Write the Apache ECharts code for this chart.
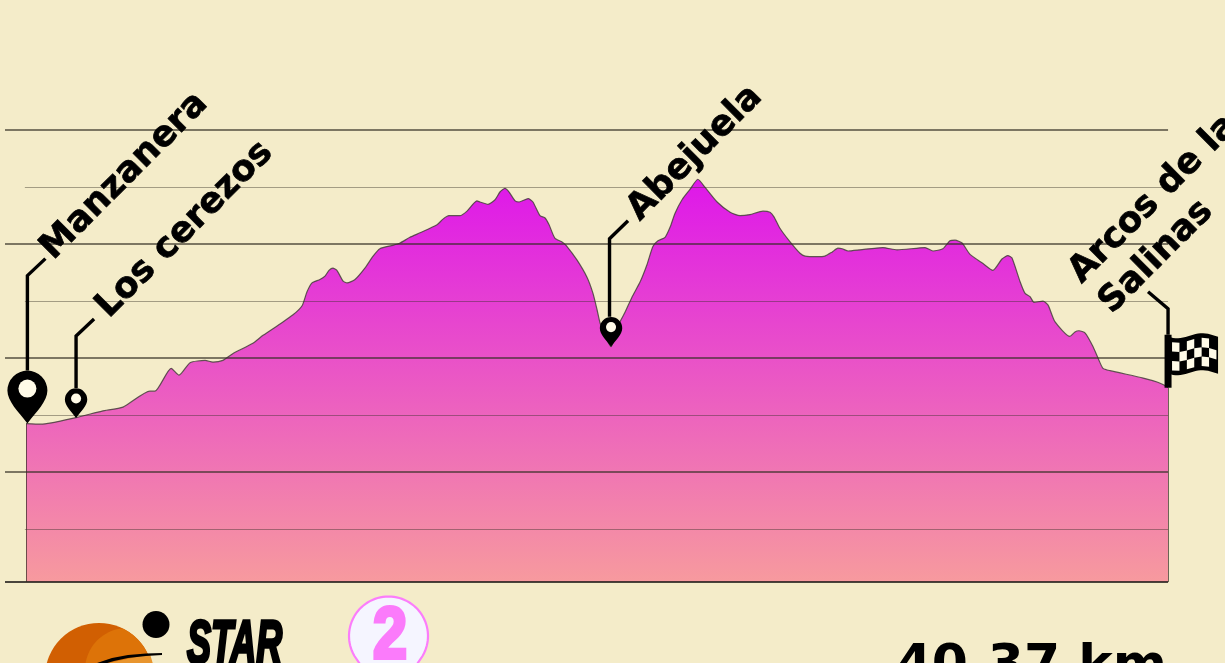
<!DOCTYPE html>
<html>
<head>
<meta charset="utf-8">
<style>html,body{margin:0;padding:0;background:#f4ecc9;overflow:hidden}#c{width:1225px;height:663px}</style>
<script src="https://cdn.jsdelivr.net/npm/echarts@6/dist/echarts.min.js"></script>
</head>
<body>
<div id="c"></div>
<script>
// Route profile: distance (km) and elevation (m)
const distanceKm = [0,0.53,1.80,2.69,3.43,4.38,4.56,5.13,5.41,5.80,6.33,6.61,6.96,7.32,8.02,8.38,8.98,9.44,9.76,9.93,10.11,10.39,10.57,10.71,10.85,10.99,11.21,11.35,11.63,11.98,12.27,12.51,12.97,13.22,13.57,13.93,14.53,14.74,14.95,15.34,15.59,15.94,16.05,16.33,16.58,16.76,16.93,17.07,17.29,17.43,17.75,17.92,18.17,18.35,18.49,18.70,18.95,19.09,19.48,19.83,20.04,20.19,20.29,20.47,20.68,20.86,21.00,21.17,21.42,21.71,21.95,22.16,22.34,22.59,22.77,22.94,23.19,23.47,23.75,24.00,24.43,24.89,25.24,25.59,26.05,26.30,26.44,26.65,27.01,27.36,27.54,27.96,28.24,28.49,28.70,28.85,29.06,29.48,30.29,30.79,31.78,32.06,32.41,32.66,32.84,33.09,33.37,33.83,34.18,34.50,34.71,34.85,35.14,35.31,35.49,35.63,35.95,36.13,36.37,36.90,37.08,37.22,37.44,37.72,37.93,38.07,38.32,39.49,39.98,40.33,40.37];
const elevationM = [1042.5,1042,1048,1053.5,1057,1071,1071,1091,1085,1096,1098,1096.5,1098,1104,1113,1120,1130,1138,1146,1158,1166,1169,1172,1177,1179,1177,1167.5,1166,1169,1179,1189.5,1196,1199,1201,1206,1210,1217,1222,1225,1225,1229,1238,1237,1235,1239,1246,1249,1246,1238,1237,1240,1237,1225,1223,1217,1205,1202,1199,1186,1171,1157,1142,1131,1120,1110,1122,1132,1140,1153.5,1167,1182,1198,1203,1206,1215,1227,1239,1248,1257,1250,1237,1228,1225,1226,1229,1228,1224,1214,1202,1192,1189.5,1189,1189.5,1193,1196.5,1196,1194,1195,1197,1195,1197,1194,1196,1203,1203.5,1201,1191,1183,1177,1187,1190,1188,1167,1157,1154,1149,1150,1146.5,1132,1119,1123,1124,1122,1110,1098,1091,1089,1082.5,1079,1075,1074];

const majorLevels = [1000, 1100, 1200, 1300];
const minorLevels = [950, 1050, 1150, 1250];
const floorM = 903.5;

const stopNames = ['Manzanera', 'Los cerezos', 'Abejuela', 'Arcos de la\nSalinas'];
const stopKm = [0.05, 1.77, 20.68, 40.37];
const stopElev = [1042.5, 1047.4, 1110, 1074];
const totalLabel = '40.37 km';
const brandLabel = 'STAR';
const stageLabel = '2';

const endKm = 40.37;
const xMin = -0.742, xMax = 42.383, yMax = 1414.3, minorStartKm = -0.04;

// styling of the stops: pin scale, leader offsets, label anchor
const STOP_STYLE = [
  {pin: 1, leader: [[0,-53],[0,-148],[18,-165]], label: [32,-157]},
  {pin: .56, leader: [[0,-30],[0,-82],[18,-99]], label: [39,-93]},
  {pin: .56, leader: [[-1.5,-30],[-1.5,-108],[17,-126]], label: [35,-119]},
  {pin: 0, leader: [[0,-53],[0,-79],[-20,-96]], label: [-50,-67]}
];
const PIN = 'M20 53 C11 41 0 31 0 20 A20 20 0 0 1 40 20 C40 31 29 41 20 53 Z';
const CREAM = '#fffbe8';
const LABEL_FONT = 'bold 35.5px "DejaVu Sans"';

function flag(x, y) {
  const wave = u => 2.5 * Math.sin(u * Math.PI * 2 + 0.4);
  const kids = [{type:'rect', shape:{x:x-3.5, y:y-53, width:7, height:53}, style:{fill:'#000'}}];
  const pts = [];
  for (let i=0;i<=20;i++){const u=i/20; pts.push([x+u*50, y-52+wave(u)]);}
  for (let i=20;i>=0;i--){const u=i/20; pts.push([x+u*50, y-15+wave(u)]);}
  kids.push({type:'polygon', shape:{points:pts}, style:{fill:'#000'}});
  const cols=6, rows=3, cw=7.4, ch=9.4;
  for (let r=0;r<rows;r++) for (let c=0;c<cols;c++){
    if ((r+c)%2) continue;
    const u0=(4+c*cw)/50, u1=(4+(c+1)*cw)/50;
    const top=y-47.5+r*ch;
    kids.push({type:'polygon', shape:{points:[
      [x+u0*50, top+wave(u0)],[x+u1*50, top+wave(u1)],
      [x+u1*50, top+ch+wave(u1)],[x+u0*50, top+ch+wave(u0)]]}, style:{fill:CREAM}});
  }
  return kids;
}

function renderStop(params, api) {
  const i = params.dataIndex;
  const p = api.coord([api.value(0), api.value(1)]);
  const s = STOP_STYLE[i];
  const x = p[0], y = p[1];
  const children = [];
  children.push({type:'polyline', shape:{points:s.leader.map(q=>[x+q[0], y+q[1]])},
    style:{stroke:'#000', lineWidth:3.4, fill:null}});
  if (s.pin) {
    const w = 40*s.pin, h = 53*s.pin;
    children.push({type:'path', shape:{pathData:PIN, layout:'cover', x:x-w/2, y:y-h, width:w, height:h}, style:{fill:'#000'}});
    children.push({type:'circle', shape:{cx:x, cy:y-h+18*s.pin, r:9*s.pin}, style:{fill:CREAM}});
  } else {
    flag(x, y).forEach(k=>children.push(k));
  }
  const lines = stopNames[i].split('\n');
  lines.forEach((t, n) => {
    const lineGap = 43 * (n - lines.length + 1);
    children.push({type:'text', x:x+s.label[0]+lineGap*0.707, y:y+s.label[1]+lineGap*0.707,
      rotation:Math.PI/4,
      style:{text:t, font:LABEL_FONT, fill:'#000', stroke:'#000', lineWidth:0.7, align:'left', verticalAlign:'bottom'}});
  });
  return {type:'group', children};
}

const gridSegments = [
  ...majorLevels.map(v=>[{coord:[xMin,v], lineStyle:{type:'solid', color:'rgba(50,45,35,.62)', width:2}},{coord:[endKm,v]}]),
  ...minorLevels.map(v=>[{coord:[minorStartKm,v], lineStyle:{type:'solid', color:'rgba(50,45,35,.42)', width:1.2}},{coord:[endKm,v]}]),
  [{coord:[xMin,floorM], lineStyle:{type:'solid', color:'rgba(30,28,25,.8)', width:2}},{coord:[endKm,floorM]}],
  [{coord:[0,floorM], lineStyle:{type:'solid', color:'rgba(50,45,35,.7)', width:1}},{coord:[0,elevationM[0]]}],
  [{coord:[endKm,floorM], lineStyle:{type:'solid', color:'rgba(50,45,35,.7)', width:1}},{coord:[endKm,elevationM[elevationM.length-1]]}]
];

// footer decoration outlines
function innerGlow() {
  const pts = [];
  for (let a=0;a<360;a+=4){
    const r=a*Math.PI/180; let px=127+42*Math.cos(r), py=670+42*Math.sin(r);
    const dx=px-99, dy=py-677, d=Math.hypot(dx,dy);
    if (d>54){px=99+dx*54/d; py=677+dy*54/d;}
    pts.push([px,py]);
  }
  return pts;
}
function badgeOutline() {
  const pts=[], cx=388.5, cy=636, r=39.5;
  for (let a=150;a<=390;a+=4){const t=a*Math.PI/180; pts.push([cx+r*Math.cos(t), cy+r*Math.sin(t)]);}
  pts.push([388.5,706]);
  return pts;
}

const chart = echarts.init(document.getElementById('c'), null, {renderer:'canvas'});
chart.setOption({
  animation:false,
  backgroundColor:'#f4ecc9',
  grid:{left:5, right:0, top:0, bottom:81},
  xAxis:{type:'value', min:xMin, max:xMax, show:false},
  yAxis:{type:'value', min:floorM, max:yMax, show:false},
  tooltip:{show:false},
  series:[
    {type:'line', data:distanceKm.map((d,i)=>[d,elevationM[i]]), showSymbol:false, smooth:0.2, silent:true,
     lineStyle:{color:'rgba(70,65,60,.85)', width:1.2},
     areaStyle:{opacity:1, origin:'start', color:new echarts.graphic.LinearGradient(0,0,0,1,[
       {offset:0,color:'#de17ea'},{offset:1,color:'#f79a9e'}])},
     markLine:{silent:true, symbol:'none', label:{show:false}, animation:false, data:gridSegments}, z:2},
    {type:'custom', data:stopKm.map((d,i)=>[d,stopElev[i]]), renderItem:renderStop, silent:true, z:5}
  ],
  graphic:[
    {type:'circle', shape:{cx:99, cy:677, r:54}, style:{fill:'#d15f02'}},
    {type:'polygon', shape:{points:innerGlow()}, style:{fill:'#dd7308'}},
    {type:'polygon', shape:{points:[[104,664],[150,654],[153,664]]}, style:{fill:'#e8952e'}},
    {type:'polygon', shape:{points:[[94,664],[112,658],[128,655],[146,653.5],[162,653],[162,655],[146,656],[128,658],[114,661],[104,664]]}, style:{fill:'#000'}},
    {type:'circle', shape:{cx:156, cy:624.5, r:13.5}, style:{fill:'#000'}},
    {type:'text', x:187, y:615, scaleX:.58, style:{text:brandLabel, font:'italic bold 62px "Liberation Sans"', fill:'#000', stroke:'#000', lineWidth:3.5, align:'left', verticalAlign:'top'}},
    {type:'polygon', shape:{points:badgeOutline()}, style:{fill:'#f5f5ff', stroke:'#fb7dfb', lineWidth:2.2}},
    {type:'text', x:390, y:602, scaleX:.85, style:{text:stageLabel, font:'bold 72px "Liberation Sans"', fill:'#fb7bfb', stroke:'#fb7bfb', lineWidth:4, align:'center', verticalAlign:'top'}},
    {type:'text', x:1167, y:693, style:{text:totalLabel, font:'bold 52px "DejaVu Sans"', fill:'#000', align:'right', verticalAlign:'bottom'}}
  ]
});
</script>
</body>
</html>
